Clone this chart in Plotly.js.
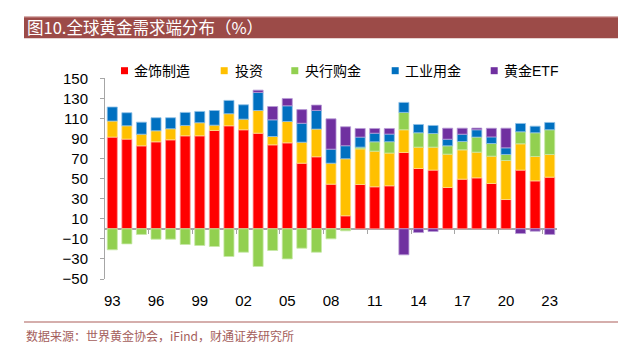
<!DOCTYPE html>
<html>
<head>
<meta charset="utf-8">
<script src="https://cdn.plot.ly/plotly-3.0.1.min.js"></script>
<style>
html,body{margin:0;padding:0;background:#fff;}
#chart{width:642px;height:353px;}
</style>
</head>
<body>
<div id="chart"></div>
<script>
// ---- data ----
const years = [1993,1994,1995,1996,1997,1998,1999,2000,2001,2002,2003,2004,2005,2006,2007,2008,2009,2010,2011,2012,2013,2014,2015,2016,2017,2018,2019,2020,2021,2022,2023];
const jewelry    = [91.4,89.4,82.7,86.7,88.7,92.7,92.7,98,102.7,98.7,95.3,83.7,85.7,65.4,71.8,44.5,13,44.2,41.9,42.9,76.1,60.1,58.5,41.2,49.5,50.8,45.2,29.2,58.5,47.8,51.5];
const investment = [16,13.3,11.6,11,11,10.3,13,5.3,12,10.6,22.6,8.3,21.3,20.9,27.6,20.9,56.8,35.5,35.5,32.6,22.6,21.3,22.9,33.2,29.2,25.6,27.2,38.9,26.2,24.3,22.6];
const centralBank= [-20.9,-15,-5.6,-10.3,-10.3,-15.6,-16.6,-17.6,-27.6,-23.3,-37.5,-21.6,-30,-19.3,-23.3,-10,-2,1.7,9.3,11.3,17.3,14.3,13.6,8.3,8.3,15,12.6,6,12,23.6,24.6];
const industrial = [14,13,12,13,11,13,11.3,14.6,13.3,14.3,18,16.6,15.6,18.9,18.6,14,13,10,8.6,7.6,10,8.3,8,6.6,7.3,7.3,6.6,6.6,8.3,6.6,7.3];
const goldETF    = [null,null,null,null,null,null,null,null,null,null,2.3,13.3,7.3,13.6,5.3,30.2,18.9,8.6,4.7,5.6,-25.9,-3.7,-2.7,11,6,1.7,8.6,19.6,-4.7,-2.3,-5.6];
const seriesNames = ['金饰制造','投资','央行购金','工业用金','黄金ETF'];
const tickYears  = [1993,1996,1999,2002,2005,2008,2011,2014,2017,2020,2023];
const tickLabels = ['93','96','99','02','05','08','11','14','17','20','23'];
const yTicks = [-50,-30,-10,10,30,50,70,90,110,130,150];

// ---- styles ----
const W = 642, H = 353;
const colors = ['#FF0000','#FFC000','#92D050','#0070C0','#7030A0'];
const edges  = ['#FF9A9A','#FFE08A','#C6E8A6','#8FC0E6','#B79AD6'];
const values = [jewelry, investment, centralBank, industrial, goldETF];
const px = x => x / W;
const py = y => (H - y) / H;

const xRange = [1992.5, 2023.5];
const traces = values.map((v, i) => ({
  type: 'bar', x: years, y: v, name: seriesNames[i],
  marker: {color: colors[i], line: {color: edges[i], width: 0.8}},
  hoverinfo: 'x+y+name', showlegend: false
}));
// dummy trace for the tick-mark axis at zero
traces.push({type:'scatter', x:[xRange[0]], y:[0], xaxis:'x2', yaxis:'y', mode:'markers', marker:{opacity:0}, showlegend:false, hoverinfo:'skip'});

const legendSquaresX = [121, 220.7, 291.3, 391.7, 490.7];
const legendTextX    = [132.3, 232.7, 303.3, 402.7, 501.7];
const legendY = 70.7;

const shapes = [
  {type:'rect', xref:'paper', yref:'paper', x0:px(24), x1:px(618), y0:py(38.3), y1:py(16.7), fillcolor:'#9C4B48', line:{width:0}, layer:'below'},
  {type:'line', xref:'paper', yref:'paper', x0:px(24), x1:px(618), y0:py(17), y1:py(17), line:{color:'#C9908D', width:1}},
  {type:'line', xref:'paper', yref:'paper', x0:px(24), x1:px(618), y0:py(322), y1:py(322), line:{color:'#D5AEAC', width:2}}
];
legendSquaresX.forEach((x, i) => shapes.push({
  type:'rect', xref:'paper', yref:'paper', x0:px(x), x1:px(x+7), y0:py(legendY+3.5), y1:py(legendY-3.5),
  fillcolor:colors[i], line:{width:0}
}));

const cjk = '"Noto Sans CJK SC", "Noto Sans", sans-serif';
const annotations = [
  {xref:'paper', yref:'paper', x:px(25), y:py(27.5), xanchor:'left', yanchor:'middle', showarrow:false,
   text:'图10.全球黄金需求端分布（%）', font:{family:cjk, size:16.5, color:'#FFFFFF'}},
  {xref:'paper', yref:'paper', x:px(24), y:py(335), xanchor:'left', yanchor:'middle', showarrow:false,
   text:'数据来源：世界黄金协会，iFind，财通证券研究所', font:{family:cjk, size:12, color:'#A45E5C'}}
];
legendTextX.forEach((x, i) => annotations.push({
  xref:'paper', yref:'paper', x:px(x), y:py(legendY), xanchor:'left', yanchor:'middle', showarrow:false,
  text:seriesNames[i], font:{family:'"Liberation Sans", ' + cjk, size:14, color:'#000'}
}));

const layout = {
  width: W, height: H,
  margin: {l:0, r:0, t:0, b:0},
  paper_bgcolor:'#fff', plot_bgcolor:'#fff',
  barmode:'relative', bargap:0.31,
  showlegend:false,
  font:{family:'"Liberation Sans", Arial, sans-serif', size:14, color:'#000'},
  xaxis: {
    domain:[px(105), px(557)], range:xRange, automargin:false,
    tickmode:'array', tickvals:tickYears, ticktext:tickLabels,
    showline:false, showgrid:false, zeroline:false, ticks:'',
    ticklabelstandoff: 11, tickfont:{size:15}
  },
  xaxis2: {
    overlaying:'x', anchor:'free', position: (H-229)/H, domain:[px(105), px(557)], range:xRange,
    tickmode:'array', tickvals: tickYears.map(y => y + 2.5).filter(v => v < 2023.5),
    ticks:'outside', ticklen:4, tickcolor:'#A6A6A6', tickwidth:1,
    showticklabels:false, showline:false, showgrid:false, zeroline:false
  },
  yaxis: {
    domain:[py(279), py(78.3)], range:[-50,150], automargin:false,
    tickmode:'array', tickvals:yTicks,
    showline:true, linecolor:'#A6A6A6', linewidth:1,
    ticks:'outside', ticklen:4, tickcolor:'#A6A6A6',
    showgrid:false, zeroline:true, zerolinecolor:'#A6A6A6', zerolinewidth:1.5,
    ticklabelstandoff: 9, tickfont:{size:15}
  },
  shapes: shapes,
  annotations: annotations
};

Plotly.newPlot('chart', traces, layout, {displayModeBar:false, staticPlot:true});
</script>
</body>
</html>
